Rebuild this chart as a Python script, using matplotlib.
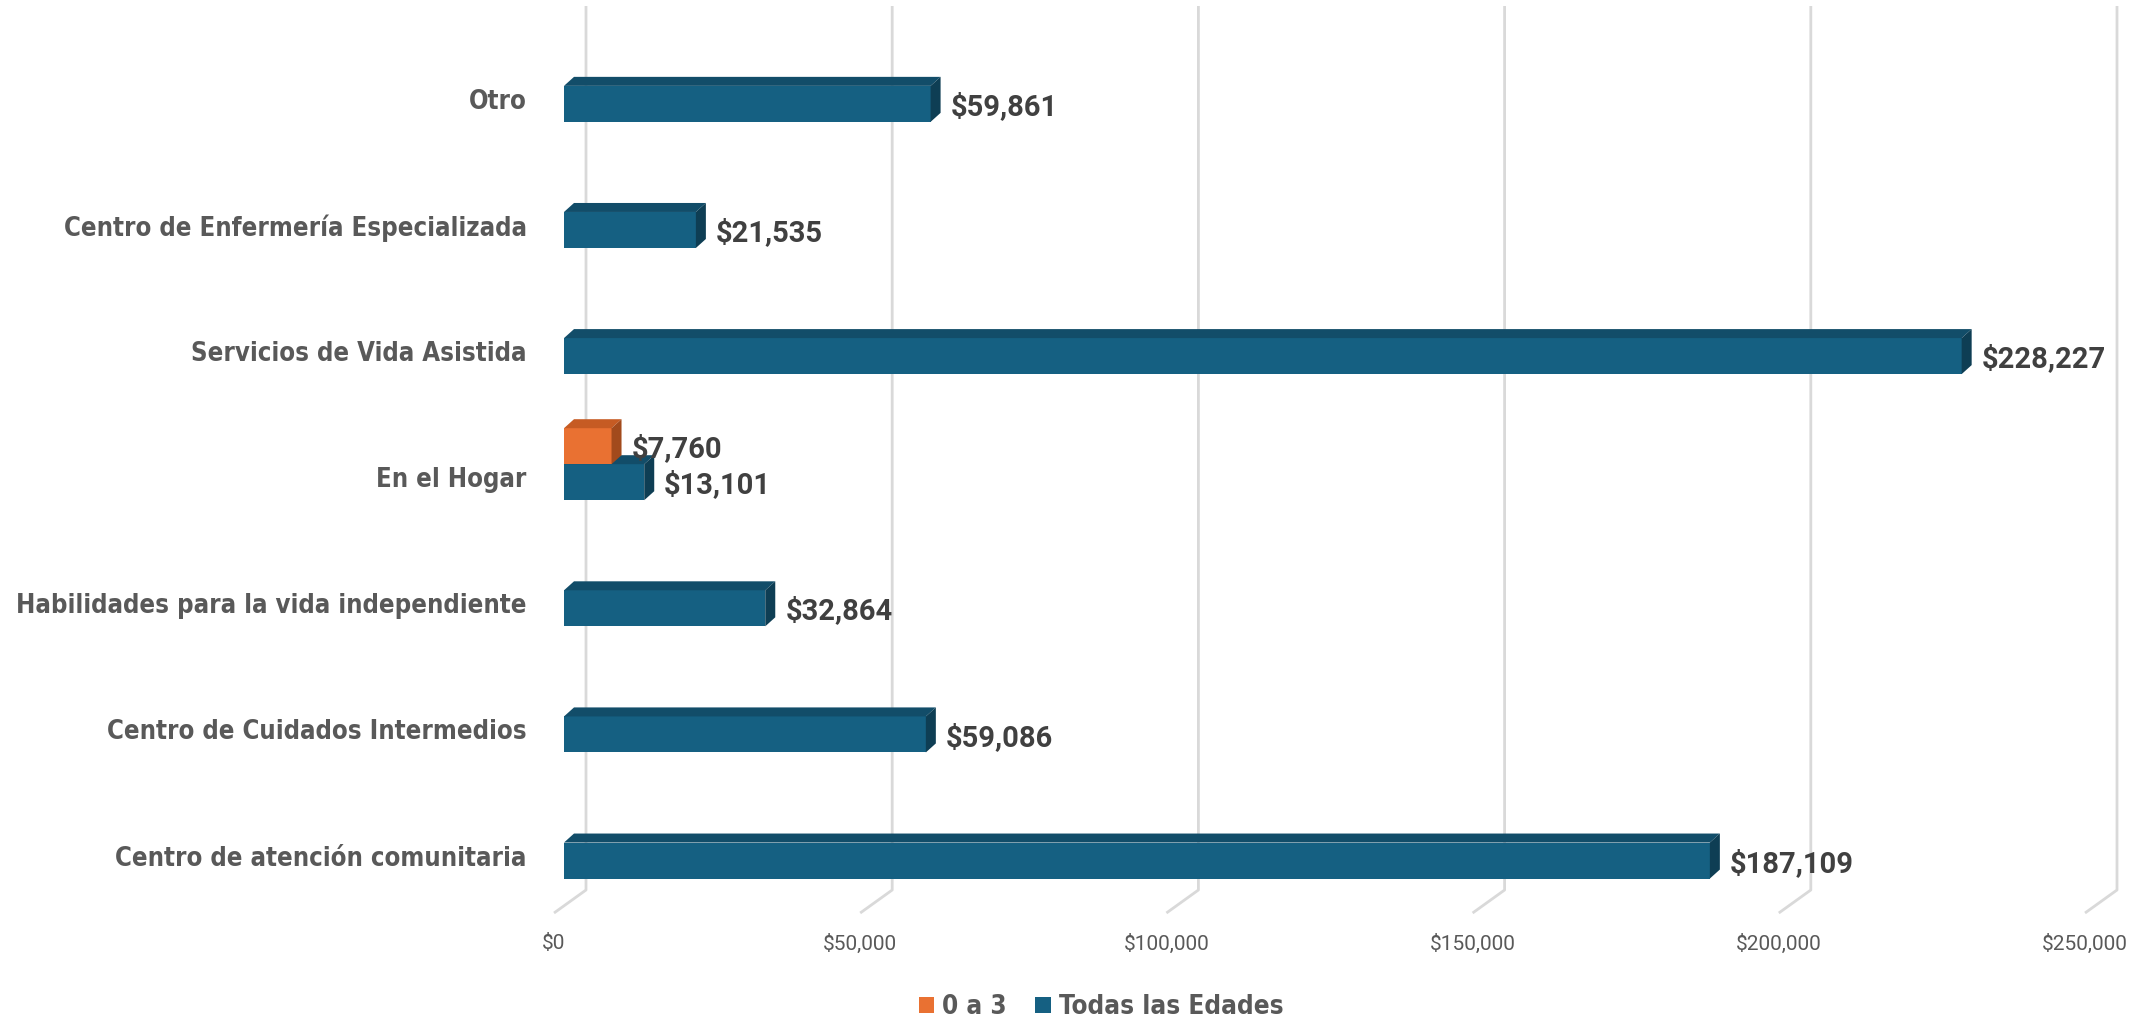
import matplotlib
matplotlib.use("Agg")
import matplotlib.pyplot as plt
from matplotlib import font_manager
from matplotlib.font_manager import FontProperties
from matplotlib.patches import Polygon, Patch
from matplotlib.transforms import ScaledTranslation

# ---- data -------------------------------------------------------------
categories = [
    "Centro de atención comunitaria",
    "Centro de Cuidados Intermedios",
    "Habilidades para la vida independiente",
    "En el Hogar",
    "Servicios de Vida Asistida",
    "Centro de Enfermería Especializada",
    "Otro",
]
todas_las_edades = [187109, 59086, 32864, 13101, 228227, 21535, 59861]
cero_a_tres = [None, None, None, 7760, None, None, None]
series_names = ["0 a 3", "Todas las Edades"]
x_ticks = [0, 50000, 100000, 150000, 200000, 250000]

# ---- style ------------------------------------------------------------
BLUE = ("#156082", "#124d69", "#0e3e54")      # front, top, side
ORANGE = ("#e97132", "#c65b23", "#a24a1c")
GRID = "#d9d9d9"
LABEL_GRAY = "#595959"
VALUE_GRAY = "#404040"


def pick_narrow_font():
    """Return (family, stretch) of a narrow bold face, if one is installed."""
    for fam in ["Liberation Sans Narrow", "DejaVu Sans", "Roboto Condensed",
                "Noto Sans", "Open Sans", "Roboto"]:
        for stretch in ["condensed", "semi-condensed"]:
            try:
                path = font_manager.findfont(
                    FontProperties(family=fam, stretch=stretch, weight="bold"),
                    fallback_to_default=False)
            except Exception:
                continue
            low = path.lower()
            if "condensed" in low or "narrow" in low:
                return fam, stretch
    return "Lato", "normal"


NARROW, STRETCH = pick_narrow_font()

W, H, DPI = 2154, 1023, 100
fig = plt.figure(figsize=(W / DPI, H / DPI), dpi=DPI)
renderer = fig.canvas.get_renderer()


def fit_size(text, target_px, base=24):
    t = fig.text(0, 0, text, fontsize=base, family=NARROW, fontstretch=STRETCH,
                 fontweight="bold")
    w = t.get_window_extent(renderer).width
    t.remove()
    return base * target_px / w


cat_size = fit_size("Habilidades para la vida independiente", 511)
leg_size = fit_size("Todas las Edades", 224)

ax_left, ax_right, ax_top, ax_bottom = 564, 2095, 6, 913
ax = fig.add_axes([ax_left / W, 1 - ax_bottom / H,
                   (ax_right - ax_left) / W, (ax_bottom - ax_top) / H])
ax.set_xlim(0, 250000)
y0, y1 = -0.416, 6.776
ax.set_ylim(y0, y1)

# pixel -> data unit conversion for the pseudo-3D depth
px_x = 250000 / (ax_right - ax_left)
px_y = (y1 - y0) / (ax_bottom - ax_top)

# back-wall gridlines with floor diagonals
for t in x_ticks:
    xs = [t - 10 * px_x, t + 22 * px_x, t + 22 * px_x]
    ys = [y0, y0 + 23 * px_y, y1]
    ax.plot(xs, ys, color=GRID, lw=2.0, zorder=0, clip_on=False,
            solid_capstyle="butt")

bar_h = 36 / 126.1
dx, dy = 10 * px_x, 9 * px_y


def bar3d(y, value, colors, z):
    front, top, side = colors
    ax.barh(y, value, height=bar_h, left=0, color=front, zorder=z,
            edgecolor="none")
    yt = y + bar_h / 2
    yb = y - bar_h / 2
    ax.add_patch(Polygon([(0, yt), (value, yt), (value + dx, yt + dy),
                          (dx, yt + dy)], closed=True, facecolor=top,
                         edgecolor="none", zorder=z))
    ax.add_patch(Polygon([(value, yb), (value, yt), (value + dx, yt + dy),
                          (value + dx, yb + dy)], closed=True,
                         facecolor=side, edgecolor="none", zorder=z))
    ax.annotate(f"${value:,}", xy=(value, y), xytext=(20 * 0.72, -2),
                textcoords="offset points", va="center", ha="left",
                fontsize=21, fontweight="bold", color=VALUE_GRAY,
                family=["Roboto", "DejaVu Sans"], zorder=z + 1)


positions = list(range(len(categories)))
for i, (p, v) in enumerate(zip(positions, todas_las_edades)):
    bar3d(p, v, BLUE, 2 + i * 0.01)
for p, v in zip(positions, cero_a_tres):
    if v is not None:
        bar3d(p + bar_h, v, ORANGE, 3)

# axes labels
ax.set_xticks(x_ticks)
ax.set_xticklabels([f"${t:,}" for t in x_ticks], fontsize=15,
                   color=LABEL_GRAY, family=["Roboto", "DejaVu Sans"])
ax.tick_params(axis="x", length=0, pad=15)
for lbl in ax.get_xticklabels():
    lbl.set_transform(lbl.get_transform()
                      + ScaledTranslation(-10 / DPI, 0, fig.dpi_scale_trans))

ax.set_yticks(positions)
ax.set_yticklabels(categories, fontsize=cat_size, fontweight="bold",
                   color=LABEL_GRAY, family=NARROW, fontstretch=STRETCH)
ax.tick_params(axis="y", length=0, pad=27)
for lbl in ax.get_yticklabels():
    lbl.set_transform(lbl.get_transform()
                      + ScaledTranslation(0, 5 / DPI, fig.dpi_scale_trans))

for s in ax.spines.values():
    s.set_visible(False)

handles = [Patch(facecolor=ORANGE[0], edgecolor="none"),
           Patch(facecolor=BLUE[0], edgecolor="none")]
leg = fig.legend(handles, series_names, loc="center",
                 bbox_to_anchor=(1101 / W, 1 - 1007 / H), ncol=2,
                 frameon=False,
                 prop=FontProperties(family=NARROW, stretch=STRETCH,
                                     weight="bold", size=leg_size),
                 labelcolor=LABEL_GRAY, handlelength=0.6, handleheight=0.6,
                 handletextpad=0.3, columnspacing=1.1, borderpad=0,
                 borderaxespad=0)

fig.savefig("out.png", dpi=DPI)
